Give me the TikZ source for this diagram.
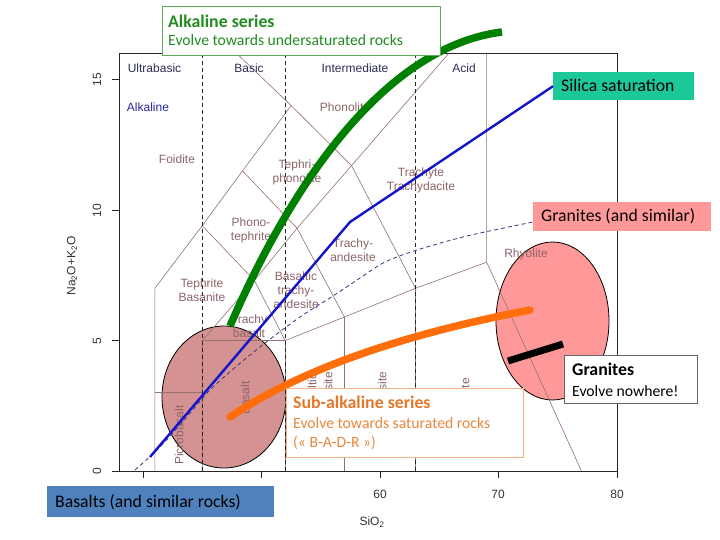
\documentclass[tikz,border=0pt]{standalone}
\usepackage{fontspec}
\setmainfont{Carlito}
\newfontfamily\arialfont{Liberation Sans}
\usetikzlibrary{shapes.geometric}
\definecolor{tasbrown}{RGB}{150,112,112}
\definecolor{labbrown}{RGB}{140,100,105}
\definecolor{headcol}{RGB}{45,45,85}
\definecolor{alkblue}{RGB}{40,40,160}
\definecolor{dashnavy}{RGB}{55,55,130}
\definecolor{blueln}{RGB}{20,20,205}
\definecolor{greenln}{RGB}{0,128,0}
\definecolor{orangeln}{RGB}{255,110,10}
\definecolor{tealbox}{RGB}{26,200,152}
\definecolor{pinkbox}{RGB}{255,153,153}
\definecolor{ellrose}{RGB}{212,146,146}
\definecolor{basblue}{RGB}{79,129,189}
\definecolor{greentxt}{RGB}{34,139,34}
\definecolor{greenbrd}{RGB}{90,170,90}
\definecolor{orangetxt}{RGB}{230,118,40}
\definecolor{orangebody}{RGB}{236,135,60}
\definecolor{orangebrd}{RGB}{244,177,131}
\begin{document}
\begin{tikzpicture}[x=1pt,y=-1pt,
  tasline/.style={draw=tasbrown, line width=0.6pt},
  divline/.style={draw=black!85, line width=0.7pt, dash pattern=on 4pt off 3pt},
  axisline/.style={draw=black!85, line width=0.8pt},
  taslabel/.style={font=\arialfont\fontsize{12}{14}\selectfont, text=labbrown, align=center, inner sep=0pt},
  headlabel/.style={taslabel, text=headcol},
  axlabel/.style={font=\arialfont\fontsize{12}{14}\selectfont, text=black!80, inner sep=0pt},
  rockell/.style={ellipse, draw=black, line width=0.8pt, inner sep=0pt},
  boxnode/.style={anchor=north west, inner sep=0pt},
  titletxt/.style={anchor=base west, inner sep=0pt, font=\fontsize{17.8}{20}\selectfont\bfseries},
  bodytxt/.style={anchor=base west, inner sep=0pt, font=\fontsize{15.7}{18}\selectfont},
  lbltxt/.style={anchor=base west, inner sep=0pt, font=\fontsize{17.7}{20}\selectfont},
]
\useasboundingbox (0,0) rectangle (720,540);
\fill[white] (0,0) rectangle (720,540);

% ellipses (under the diagram grid)
\node[rockell, fill=ellrose, minimum width=124pt, minimum height=142pt] (basEll) at (224,397) {};
\node[rockell, fill=pinkbox, minimum width=113pt, minimum height=158pt] (granEll) at (552.5,321) {};

% TAS grid in data coordinates
\begin{scope}[shift={(-331pt,-471pt)}, x=11.85pt, y=26.1pt]
  \draw[tasline] (41,0) -- (41,7) -- (45,9.4) -- (48.4,11.5) -- (52.5,14) -- (47.9,16);
  \draw[tasline] (41,3) -- (45,3);
  \draw[tasline] (45,0) -- (45,5) -- (49.4,7.3) -- (53,9.3) -- (57.6,11.7) -- (65.8,16);
  \draw[tasline] (45,5) -- (52,5) -- (57,5.9) -- (63,7) -- (69,8) -- (69,16);
  \draw[tasline] (52,0) -- (52,5);
  \draw[tasline] (57,0) -- (57,5.9);
  \draw[tasline] (63,0) -- (63,7);
  \draw[tasline] (69,8) -- (77,0);
  \draw[tasline] (45,9.4) -- (49.4,7.3) -- (52,5);
  \draw[tasline] (48.4,11.5) -- (53,9.3) -- (57,5.9);
  \draw[tasline] (52.5,14) -- (57.6,11.7) -- (63,7);
  \foreach \s in {45,52,63} \draw[divline] (\s,0) -- (\s,16);
  \draw[axisline] (38,0) rectangle (80,16);
  \foreach \n in {0,5,10,15} \draw[axisline] (38,\n) -- ++(-7pt,0);
  \foreach \s in {40,50,60,70,80} \draw[axisline] (\s,0) -- ++(0,-7pt);
\end{scope}

% alkaline / subalkaline dividing curve
\draw[dashnavy, line width=0.8pt, dash pattern=on 4pt off 3pt] plot[smooth] coordinates
  {(135,470) (160,447) (185,419) (210,390) (238,365) (265,343) (300,317) (333,296) (360,278) (385,262) (417,250) (467,236) (533,222)};

% axis labels
\node[axlabel, rotate=90] (y0) at (97,471) {0};
\node[axlabel, rotate=90] (y5) at (97,341) {5};
\node[axlabel, rotate=90] (y10) at (97,210.5) {10};
\node[axlabel, rotate=90] (y15) at (97,79.5) {15};
\node[axlabel, rotate=90] (ytitle) at (72,266) {Na\textsubscript{2}O+K\textsubscript{2}O};
\node[axlabel] (x60) at (380,494) {60};
\node[axlabel] (x70) at (498,494) {70};
\node[axlabel] (x80) at (617,494) {80};
\node[axlabel] (xtitle) at (372,522) {SiO\textsubscript{2}};

% headers
\node[headlabel] (hUB) at (154.5,68) {Ultrabasic};
\node[headlabel] (hB) at (249,68) {Basic};
\node[headlabel] (hI) at (355,68) {Intermediate};
\node[headlabel] (hA) at (464,68) {Acid};
\node[taslabel, text=alkblue] (hAlk) at (148,107) {Alkaline};

% field labels
\node[taslabel] (fFoid) at (177,159) {Foidite};
\node[taslabel] (fPhon) at (345,107) {Phonolite};
\node[taslabel] (fTephph) at (297,172) {Tephri-\\phonolite};
\node[taslabel] (fTrachyte) at (421,180) {Trachyte\\Trachydacite};
\node[taslabel] (fPhteph) at (251,230) {Phono-\\tephrite};
\node[taslabel] (fTrand) at (353,250) {Trachy-\\andesite};
\node[taslabel] (fTeph) at (202,290) {Tephrite\\Basanite};
\node[taslabel] (fBta) at (296,290) {Basaltic\\trachy-\\andesite};
\node[taslabel] (fTb) at (249,326) {Trachy\\basalt};
\node[taslabel] (fRhy) at (526,254) {Rhyolite};
\node[taslabel, rotate=90] (fPicro) at (179,435) {Picrobasalt};
\node[taslabel, rotate=90] (fBas) at (245,398) {Basalt};
\node[taslabel, rotate=90, font=\arialfont\fontsize{12}{16}\selectfont] (fBa) at (320,395) {Basaltic\\andesite};
\node[taslabel, rotate=90] (fAnd) at (382,395) {Andesite};
\node[taslabel, rotate=90] (fDac) at (465,395) {Dacite};

% boxes
\node[boxnode, fill=tealbox, minimum width=141pt, minimum height=28pt] (silica) at (553,72) {};
\node[lbltxt] (silicaTxt) at (561,91.7) {Silica saturation};
\node[boxnode, fill=pinkbox, minimum width=178pt, minimum height=29pt] (granLbl) at (533,202) {};
\node[lbltxt] (granLblTxt) at (541,221.7) {Granites (and similar)};
\node[boxnode, fill=basblue, minimum width=227pt, minimum height=31pt] (basLbl) at (47,486) {};
\node[lbltxt] (basLblTxt) at (55,507.5) {Basalts (and similar rocks)};

% series curves
\coordinate (greenStart) at (230,326);
\coordinate (greenEnd) at (502,32);
\draw[greenln, line width=7.5pt] (greenStart) .. controls (265,245) and (360,50) .. (greenEnd);
\draw[blueln, line width=2.4pt, line join=round] (150,457) -- (350,222) -- (silica.west);
\coordinate (orangeStart) at (230,417);
\coordinate (orangeEnd) at (530,310);
\draw[orangeln, line width=7.5pt, line cap=round] (orangeStart) .. controls (300,370) and (400,335) .. (orangeEnd);
\coordinate (barA) at (508,361);
\coordinate (barB) at (563,344);
\draw[black, line width=7pt] (barA) -- (barB);

% text boxes
\node[boxnode, fill=white, draw=greenbrd, line width=1pt, minimum width=278pt, minimum height=49pt] (alkBox) at (162,6) {};
\node[titletxt, text=greentxt] (alkTitle) at (168,27.7) {Alkaline series};
\node[bodytxt, text=greentxt] (alkBody) at (168,46) {Evolve towards undersaturated rocks};

\node[boxnode, fill=white, draw=orangebrd, line width=1pt, minimum width=237pt, minimum height=69pt] (subBox) at (286,388) {};
\node[titletxt, text=orangetxt] (subTitle) at (293,408.7) {Sub-alkaline series};
\node[bodytxt, text=orangebody] (subBody) at (293,428) {Evolve towards saturated rocks};
\node[bodytxt, text=orangebody] (subBody2) at (293,447) {(« B-A-D-R »)};

\node[boxnode, fill=white, draw=black!60, line width=1pt, minimum width=133pt, minimum height=48pt] (granBox) at (564,355) {};
\node[titletxt] (granTitle) at (572,375.7) {Granites};
\node[bodytxt] (granBody) at (572,396) {Evolve nowhere!};
\end{tikzpicture}
\end{document}
